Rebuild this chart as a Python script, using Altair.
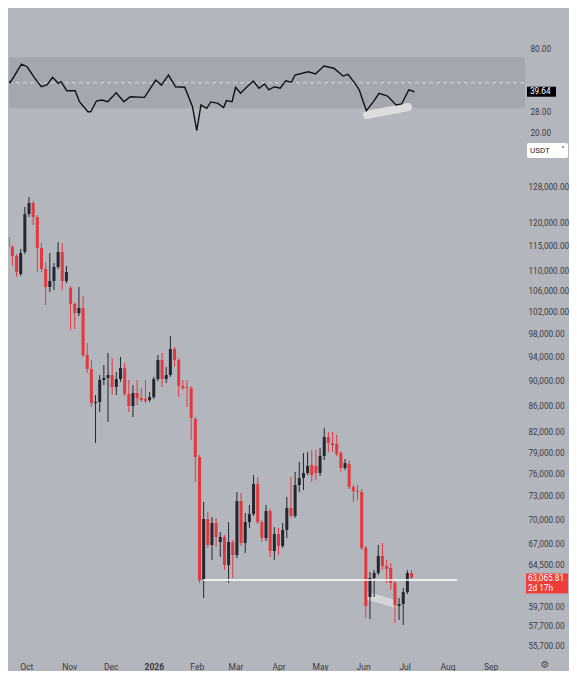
import altair as alt
import pandas as pd

BG = "#b4b6bd"
BAND = "#a5a7ae"
RED = "#e2393e"
DARK = "#24272f"
LABEL = "#383b44"
FONT = "Roboto"

# ---- 3-day candles (USDT) ----
candle_start = "2025-09-18"
opens = [117000, 114900, 113040, 109400, 113860, 121990, 124450, 121320, 114690, 110410,
         106850, 108030, 110800, 113860, 108030, 106660, 103600, 101920, 102860, 94450,
         92080, 86570, 86730, 90260, 90590, 91080, 89120, 90420, 92240, 88000,
         86100, 88160, 87360, 87200, 87050, 87520, 90420, 93600, 90420, 91080,
         95490, 93600, 89280, 89120, 88960, 84100, 78490, 62790, 70140, 66910,
         69630, 67270, 67890, 64520, 67270, 65700, 72470, 67150, 69750, 70770,
         74740, 69750, 67770, 71170, 66180, 68260, 66790, 68760, 71550, 70520,
         74600, 75560, 76250, 77360, 77220, 76250, 78630, 81390, 80510, 80370,
         79060, 76940, 77500, 74340, 73790, 73660, 66550, 60880, 63020, 63590,
         65590, 64410, 64170, 62450, 59900, 60110, 61430, 63590]
highs = [117210, 115320, 113440, 114490, 123550, 125810, 124900, 121770, 115730, 111810,
         113660, 111620, 115950, 115730, 111000, 107050, 103990, 106850, 105120, 96530,
         93600, 87840, 91080, 92750, 94790, 93940, 91570, 94100, 93090, 90260,
         89440, 90260, 88960, 90260, 88320, 90760, 94450, 94790, 92420, 97760,
         95830, 93940, 90260, 90260, 89280, 84400, 78780, 72340, 71040, 70390,
         70270, 68500, 68130, 69750, 67520, 73660, 73530, 70910, 71950, 75970,
         75690, 70010, 71950, 71420, 69130, 69010, 69630, 73000, 75690, 76390,
         77780, 79060, 79210, 79500, 79490, 79780, 82730, 82140, 82140, 81690,
         79350, 78210, 78060, 74600, 74600, 74070, 66790, 63710, 63940, 66910,
         67150, 65110, 64750, 62790, 60770, 61890, 63940, 63940]
lows = [114470, 111000, 108810, 109010, 113440, 121320, 119580, 109800, 109800, 103420,
        105890, 106280, 110410, 106280, 107630, 98830, 99010, 101380, 94100, 91410,
        85950, 80510, 85170, 89440, 83640, 87840, 87840, 89940, 87670, 85170,
        84400, 86260, 86730, 86570, 86730, 87200, 90100, 89120, 89780, 90760,
        92420, 87520, 88630, 85950, 80950, 75010, 62450, 60770, 66550, 65110,
        66670, 65470, 63940, 62450, 63020, 65340, 66790, 65940, 69010, 70520,
        69500, 67270, 67400, 65470, 65110, 65700, 66550, 67770, 70270, 70270,
        73660, 73920, 75970, 75010, 75290, 75830, 78060, 79210, 79210, 78630,
        76390, 76660, 74070, 72340, 72600, 66300, 58610, 58500, 60880, 63360,
        63940, 62450, 61660, 58080, 58400, 57860, 61210, 62900]
closes = [114900, 113040, 109800, 113660, 121990, 124450, 121320, 114690, 110410, 106850,
          108030, 110800, 113860, 108030, 109800, 103600, 101920, 102860, 94450, 92080,
          86570, 86730, 90260, 90590, 91080, 89120, 90420, 92240, 88000, 86100,
          88160, 87360, 87050, 86890, 87520, 90420, 93600, 90420, 91080, 95490,
          93600, 89280, 88960, 88960, 84250, 78490, 62790, 70140, 66910, 69630,
          67890, 67890, 64520, 67270, 65700, 72470, 67150, 69750, 70770, 74740,
          69750, 67770, 71170, 66180, 68260, 66790, 68760, 71550, 70520, 74600,
          75560, 76250, 77220, 75970, 76250, 78630, 81390, 80510, 80220, 78920,
          76940, 77640, 74340, 73790, 73660, 66550, 59900, 63020, 63590, 65590,
          64410, 64050, 62450, 60000, 60110, 61430, 63590, 63065.81]

price_ticks = [128000, 120000, 115000, 110000, 106000, 102000, 98000, 94000, 90000,
               86000, 82000, 79000, 76000, 73000, 70000, 67000, 64500, 59700, 57700, 55700]

last_price_label = "63,065.81"
countdown_label = "2d 17h"

support_dates = ["2026-02-05T12:00", "2026-08-08T00:00"]
support_price = [62790, 62790]

channel_dates = ["2026-06-02T12:00", "2026-06-24T10:00"]
channel_top = [61550, 60550]
channel_bottom = [60660, 59680]

# ---- RSI ----
rsi_dates = ["2025-09-17", "2025-09-23", "2025-10-01", "2025-10-05", "2025-10-10", "2025-10-15",
             "2025-10-19", "2025-10-23", "2025-10-27", "2025-10-29", "2025-11-02", "2025-11-08",
             "2025-11-11", "2025-11-17", "2025-11-19", "2025-11-23", "2025-11-27", "2025-12-01",
             "2025-12-07", "2025-12-12T12:00", "2025-12-17", "2025-12-27", "2026-01-04", "2026-01-08",
             "2026-01-13", "2026-01-18", "2026-01-24T12:00", "2026-01-30", "2026-02-02", "2026-02-05",
             "2026-02-09", "2026-02-12", "2026-02-17", "2026-02-21", "2026-02-23", "2026-02-27",
             "2026-03-01T12:00", "2026-03-05", "2026-03-08T12:00", "2026-03-14", "2026-03-18",
             "2026-03-22", "2026-03-25", "2026-03-29", "2026-04-02", "2026-04-06", "2026-04-10",
             "2026-04-12T12:00", "2026-04-22", "2026-04-27", "2026-05-03", "2026-05-10",
             "2026-05-16T12:00", "2026-05-20", "2026-05-25", "2026-05-28", "2026-06-02",
             "2026-06-07", "2026-06-11", "2026-06-17", "2026-06-23", "2026-06-27", "2026-07-02",
             "2026-07-06"]
rsi_values = [58.2, 50.1, 64.7, 62.6, 54.3, 46.9, 48.3, 54.3, 49.6, 50.9,
              43.8, 43.8, 35.2, 27.3, 27.3, 35.7, 36.5, 35.2, 42.2, 35.2,
              39.1, 38.6, 52.2, 48.2, 56.1, 46.9, 46.5, 31.3, 12.4, 32.6,
              30.0, 35.0, 33.9, 30.5, 36.0, 35.2, 46.5, 41.8, 45.7, 51.4,
              45.7, 49.1, 44.4, 46.9, 45.7, 51.6, 50.4, 56.1, 58.7, 56.9,
              63.2, 61.4, 55.3, 56.7, 49.6, 44.4, 28.1, 35.2, 41.8, 39.6,
              32.6, 33.4, 44.4, 43.0]
rsi_band = [70, 30]
rsi_mid = 50
rsi_last_label = "39.64"
rsi_tick_values = [76.5, 26.55, 10.6]
rsi_tick_labels = ["80.00", "28.00", "20.00"]

highlight_dates = ["2026-06-02T12:00", "2026-07-01T12:00"]
highlight_rsi = [24.75, 31.0]

month_starts = [(2025, 10), (2025, 11), (2025, 12), (2026, 1), (2026, 2), (2026, 3),
                (2026, 4), (2026, 5), (2026, 6), (2026, 7), (2026, 8), (2026, 9)]

# ---------------- build ----------------
W = 516
H_RSI = 100
H_PRICE = 496
AX_FS = 8.2

x_domain = [alt.DateTime(year=2025, month=9, date=22, hours=4),
            alt.DateTime(year=2026, month=9, date=22, hours=6)]
x_scale = alt.Scale(domain=x_domain, nice=False)
p_scale = alt.Scale(type="log", domain=[54700, 134550], nice=False)
r_scale = alt.Scale(domain=[5.14, 83.57], nice=False, zero=False)

candles = pd.DataFrame({
    "date": pd.date_range(candle_start, periods=len(opens), freq="3D").strftime("%Y-%m-%dT%H:%M"),
    "open": opens, "high": highs, "low": lows, "close": closes,
})
candles["dir"] = ["up" if c >= o else "down" for o, c in zip(opens, closes)]

color = alt.Color("dir:N", scale=alt.Scale(domain=["up", "down"], range=[DARK, RED]), legend=None)

x_axis = alt.Axis(
    values=[alt.DateTime(year=y, month=m, date=1) for y, m in month_starts],
    labelExpr="month(datum.value) == 0 ? timeFormat(datum.value, '%Y') : timeFormat(datum.value, '%b')",
    labelFontWeight={"condition": {"test": "month(datum.value) == 0", "value": "bold"}, "value": "normal"},
    title=None, grid=False, domain=False, ticks=False, labelPadding=6,
    labelFontSize=8.5, labelColor=LABEL, labelFont=FONT, labelOverlap=False, labelFlush=False,
)
p_axis = alt.Axis(
    orient="right", values=price_ticks, format=",.2f", title=None, grid=False, domain=False,
    ticks=False, labelPadding=3, labelFontSize=AX_FS, labelColor=LABEL, labelFont=FONT,
    labelAlign="left", labelBaseline="middle", labelOverlap=False, labelFlush=False,
)

base = alt.Chart(candles)
wicks = base.mark_rule(strokeWidth=1, clip=True).encode(
    x=alt.X("date:T", scale=x_scale, axis=x_axis),
    y=alt.Y("low:Q", scale=p_scale, axis=p_axis),
    y2="high:Q",
    color=color,
)
bodies = base.mark_bar(size=3, clip=True).encode(
    x=alt.X("date:T", scale=x_scale),
    y=alt.Y("open:Q", scale=p_scale),
    y2="close:Q",
    color=color,
)

channel = alt.Chart(pd.DataFrame({"date": channel_dates, "top": channel_top, "bottom": channel_bottom})).mark_area(
    color="#eceef1", opacity=0.55, clip=True
).encode(
    x=alt.X("date:T", scale=x_scale),
    y=alt.Y("top:Q", scale=p_scale),
    y2="bottom:Q",
)

support = alt.Chart(pd.DataFrame({"date": support_dates, "price": support_price})).mark_line(
    color="white", strokeWidth=1.5, clip=True
).encode(
    x=alt.X("date:T", scale=x_scale),
    y=alt.Y("price:Q", scale=p_scale),
)

tag_df = pd.DataFrame({"price": [closes[-1]], "label": [last_price_label], "timer": [countdown_label]})
tag_rect = alt.Chart(tag_df).mark_rect(color="#ee3d3a", yOffset=-4, y2Offset=16).encode(
    x=alt.value(517), x2=alt.value(559),
    y=alt.Y("price:Q", scale=p_scale), y2="price:Q",
)
tag_text = alt.Chart(tag_df).mark_text(align="left", baseline="middle", fontSize=AX_FS, font=FONT,
                                       color="white", dy=1).encode(
    x=alt.value(519), y=alt.Y("price:Q", scale=p_scale), text="label:N")
tag_timer = alt.Chart(tag_df).mark_text(align="left", baseline="middle", fontSize=AX_FS, font=FONT,
                                        color="white", dy=11).encode(
    x=alt.value(519), y=alt.Y("price:Q", scale=p_scale), text="timer:N")

gear = alt.Chart(pd.DataFrame({"t": ["\u2699"]})).mark_text(
    fontSize=10, font="DejaVu Sans", color="#4a4d55", baseline="middle", align="center"
).encode(x=alt.value(536), y=alt.value(505), text="t:N")

price_chart = alt.layer(channel, wicks, bodies, support, tag_rect, tag_text, tag_timer, gear).properties(
    width=W, height=H_PRICE)

# RSI panel
rsi_df = pd.DataFrame({"date": rsi_dates, "rsi": rsi_values})
label_expr = ("datum.value > 50 ? '%s' : datum.value > 20 ? '%s' : '%s'"
              % tuple(rsi_tick_labels))
r_axis = alt.Axis(
    orient="right", values=rsi_tick_values, labelExpr=label_expr, title=None, grid=False,
    domain=False, ticks=False, labelPadding=5, labelFontSize=AX_FS, labelColor=LABEL, labelFont=FONT,
    labelAlign="left", labelBaseline="middle", labelOverlap=False, labelFlush=False,
)

band = alt.Chart(pd.DataFrame({"top": [rsi_band[0]], "bottom": [rsi_band[1]]})).mark_rect(color=BAND).encode(
    x=alt.value(0), x2=alt.value(W),
    y=alt.Y("top:Q", scale=r_scale, axis=r_axis), y2="bottom:Q",
)
mid = alt.Chart(pd.DataFrame({"mid": [rsi_mid]})).mark_rule(
    color="#d6d7dc", strokeDash=[4, 3], strokeWidth=1
).encode(x=alt.value(0), x2=alt.value(W), y=alt.Y("mid:Q", scale=r_scale))

highlight = alt.Chart(pd.DataFrame({"date": highlight_dates, "rsi": highlight_rsi})).mark_line(
    color="#e6e7ea", opacity=0.8, strokeWidth=8, strokeCap="round", clip=True
).encode(x=alt.X("date:T", scale=x_scale, axis=None), y=alt.Y("rsi:Q", scale=r_scale))

rsi_line = alt.Chart(rsi_df).mark_line(color="#111216", strokeWidth=1.4, clip=True).encode(
    x=alt.X("date:T", scale=x_scale, axis=None),
    y=alt.Y("rsi:Q", scale=r_scale),
)

rsi_tag_df = pd.DataFrame({"rsi": [rsi_values[-1]], "label": [rsi_last_label]})
rsi_tag_rect = alt.Chart(rsi_tag_df).mark_rect(color="black", yOffset=-5, y2Offset=5).encode(
    x=alt.value(518), x2=alt.value(547), y=alt.Y("rsi:Q", scale=r_scale), y2="rsi:Q")
rsi_tag_text = alt.Chart(rsi_tag_df).mark_text(align="left", baseline="middle", fontSize=AX_FS,
                                               font=FONT, color="white").encode(
    x=alt.value(521), y=alt.Y("rsi:Q", scale=r_scale), text="label:N")

usdt_df = pd.DataFrame({"t": ["USDT"], "c": ["\u02c5"]})
usdt_box = alt.Chart(usdt_df).mark_rect(color="white", cornerRadius=2).encode(
    x=alt.value(518), x2=alt.value(559), y=alt.value(103), y2=alt.value(118))
usdt_text = alt.Chart(usdt_df).mark_text(align="left", baseline="middle", fontSize=8, font=FONT,
                                         color="#1f2128").encode(
    x=alt.value(521), y=alt.value(110.5), text="t:N")
usdt_chev = alt.Chart(usdt_df).mark_text(align="center", baseline="middle", fontSize=8,
                                         font="DejaVu Sans", color="#1f2128").encode(
    x=alt.value(554), y=alt.value(111), text="c:N")

rsi_chart = alt.layer(band, mid, highlight, rsi_line, rsi_tag_rect, rsi_tag_text,
                      usdt_box, usdt_text, usdt_chev).properties(width=W, height=H_RSI)

chart = alt.vconcat(rsi_chart, price_chart, spacing=20, bounds="flush").properties(
    padding={"left": 0, "top": 32, "right": 0, "bottom": 0},
    background=BG,
).configure_view(stroke=None)

chart.save("out.html", embed_options={"renderer": "svg", "actions": False})
